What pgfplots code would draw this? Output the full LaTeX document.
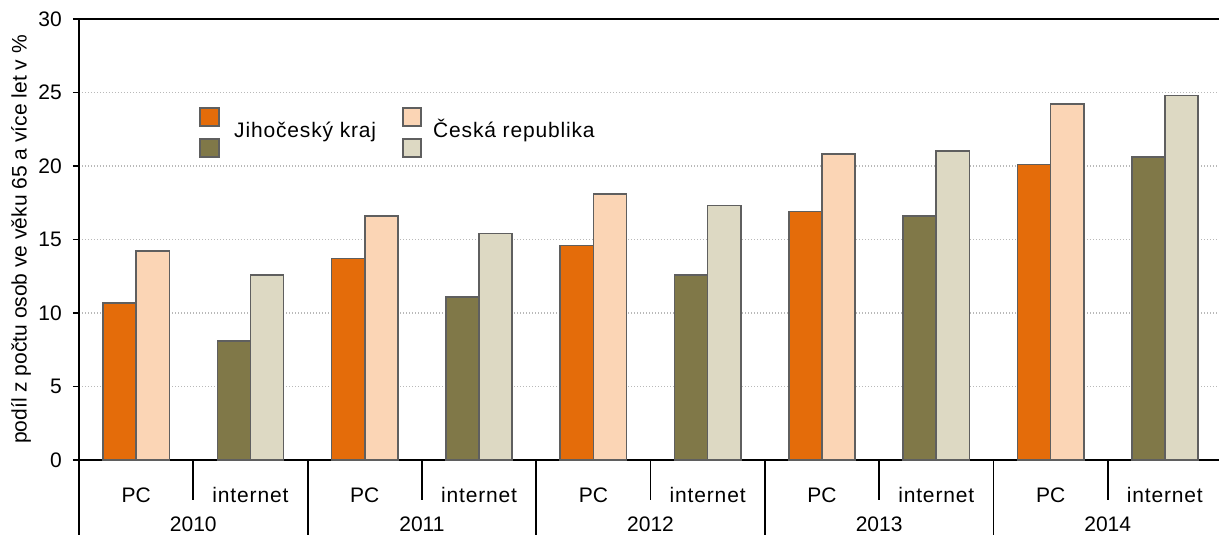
\documentclass[border=0pt]{standalone}
\usepackage{fontspec}
\setmainfont{Liberation Sans}
\newfontfamily\spfont[LetterSpace=4]{Liberation Sans}
\usepackage{pgfplots}
\pgfplotsset{compat=1.18}
\definecolor{jcor}{HTML}{E46C0A}
\definecolor{crpeach}{HTML}{FBD5B5}
\definecolor{jcol}{HTML}{807848}
\definecolor{crbeige}{HTML}{DDD9C3}
\definecolor{edge}{HTML}{5F5F5F}
\newcommand{\fs}{\fontsize{21}{25}\selectfont}
\begin{document}
\begin{tikzpicture}
\path[use as bounding box] (0,0) rectangle (1219pt,535pt);
\begin{axis}[
  at={(79pt,75pt)}, anchor=south west,
  scale only axis, width=1143pt, height=441pt,
  xmin=-0.5, xmax=9.5, ymin=0, ymax=30,
  ytick={0,5,...,30},
  xtick={0,...,9},
  xticklabels={PC,{\spfont internet},PC,{\spfont internet},PC,{\spfont internet},PC,{\spfont internet},PC,{\spfont internet}},
  xtick style={draw=none},
  ytick style={black, line width=1.8pt},
  ytick pos=left, xtick pos=bottom,
  tick align=outside, major tick length=6pt,
  ymajorgrids, grid style={gray!55, line width=1.3pt, dash pattern=on 1.3pt off 1.7pt},
  axis line style={black, line width=1.8pt},
  /pgf/number format/assume math mode=true,
  tick label style={font=\fs},
  yticklabel style={anchor=east, inner sep=0pt, xshift=-11pt},
  xticklabel style={anchor=base, inner sep=0pt, yshift=-37pt},
  ylabel={podíl z počtu osob ve věku 65 a více let v \%},
  every axis y label/.style={at={(axis description cs:-0.0507,0.5)}, rotate=90, anchor=center, font=\fontsize{21}{25}\selectfont},
  clip=false,
]
\addplot[ybar, bar width=0.29, bar shift=-0.145, fill=jcor, draw=edge, line width=1.6pt]
  coordinates {(0,10.7)(2,13.7)(4,14.6)(6,16.9)(8,20.1)};
\addplot[ybar, bar width=0.29, bar shift=0.145, fill=crpeach, draw=edge, line width=1.6pt]
  coordinates {(0,14.2)(2,16.6)(4,18.1)(6,20.8)(8,24.2)};
\addplot[ybar, bar width=0.29, bar shift=-0.145, fill=jcol, draw=edge, line width=1.6pt]
  coordinates {(1,8.1)(3,11.1)(5,12.6)(7,16.6)(9,20.6)};
\addplot[ybar, bar width=0.29, bar shift=0.145, fill=crbeige, draw=edge, line width=1.6pt]
  coordinates {(1,12.6)(3,15.4)(5,17.3)(7,21.0)(9,24.8)};
\pgfplotsinvokeforeach{-0.5,1.5,3.5,5.5,7.5,9.5}{\draw[black, line width=1.8pt] (axis cs:#1,0) -- ++(0pt,-80pt);}
\pgfplotsinvokeforeach{0.5,2.5,4.5,6.5,8.5}{\draw[black, line width=1.8pt] (axis cs:#1,0) -- ++(0pt,-40pt);}
\node[font=\fs, anchor=base, inner sep=0pt, yshift=-72pt] at (axis cs:0.5,0) {2010};
\node[font=\fs, anchor=base, inner sep=0pt, yshift=-72pt] at (axis cs:2.5,0) {2011};
\node[font=\fs, anchor=base, inner sep=0pt, yshift=-72pt] at (axis cs:4.5,0) {2012};
\node[font=\fs, anchor=base, inner sep=0pt, yshift=-72pt] at (axis cs:6.5,0) {2013};
\node[font=\fs, anchor=base, inner sep=0pt, yshift=-72pt] at (axis cs:8.5,0) {2014};
\end{axis}
\draw[edge, line width=1.8pt, fill=jcor] (200pt,409pt) rectangle (219pt,427pt);
\draw[edge, line width=1.8pt, fill=jcol] (200pt,378pt) rectangle (219pt,396pt);
\draw[edge, line width=1.8pt, fill=crpeach] (403pt,409pt) rectangle (421pt,427pt);
\draw[edge, line width=1.8pt, fill=crbeige] (403pt,378pt) rectangle (421pt,396pt);
\node[anchor=base west, inner sep=0pt, font=\fs\spfont] at (234pt,397pt) {Jihočeský kraj};
\node[anchor=base west, inner sep=0pt, font=\fs\spfont] at (433pt,397pt) {Česká republika};
\end{tikzpicture}
\end{document}
